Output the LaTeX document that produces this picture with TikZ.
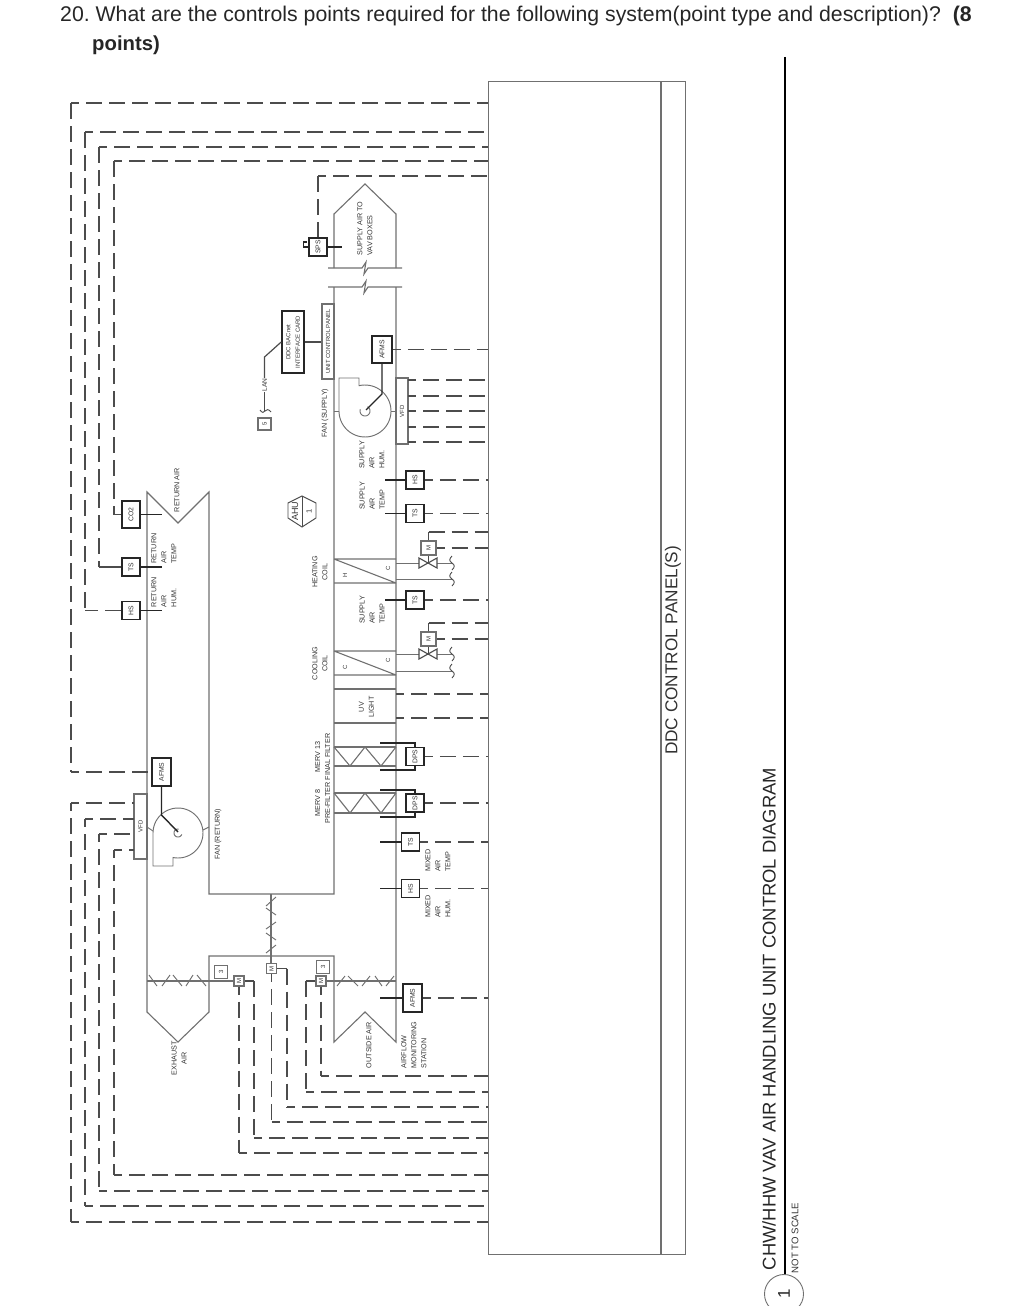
\documentclass[tikz,border=0pt]{standalone}
\usepackage{fontspec}
\setmainfont{Liberation Sans}
\definecolor{duct}{HTML}{707070}
\definecolor{sigc}{HTML}{4C4C4C}
\definecolor{txtc}{HTML}{333333}
\tikzset{
  duct/.style={draw=duct,line width=1.1pt},
  sig/.style={draw=sigc,line width=1.25pt,dash pattern=on 16pt off 7pt,dash phase=8pt},
  sigz/.style={sig,dash phase=0pt},
  wire/.style={draw=sigc,line width=1.2pt},
  stub/.style={draw=black!85,line width=1.4pt},
  thinl/.style={draw=duct,line width=0.95pt},
  inst/.style={draw=black!85,line width=1.6pt,fill=white,inner sep=0pt,font=\fontsize{6.8}{8}\selectfont,text=txtc},
  tag/.style={draw=duct,line width=1.1pt,fill=white,inner sep=0pt,font=\fontsize{6}{7}\selectfont,text=txtc},
  lbl/.style={rotate=90,inner sep=0pt,align=left,text=txtc,font=\fontsize{7.2}{10}\selectfont},
  lblc/.style={lbl,align=center},
  sym/.style={inner sep=0pt,rotate=90,font=\fontsize{6}{7}\selectfont,text=txtc},
}
\newcommand{\rt}[1]{\rotatebox{90}{#1}}
\begin{document}
\frenchspacing
\begin{tikzpicture}[x=1pt,y=-1pt]
\useasboundingbox (0,0) rectangle (1021,1306);
% header
\node[anchor=west,inner sep=0pt,font=\fontsize{21.27}{24}\selectfont,text=black!85] (q1) at (60,16.5) {20. What are the controls points required for the following system(point type and description)?\ \ \textbf{(8}};
\node[anchor=west,inner sep=0pt,font=\bfseries\fontsize{20.3}{24}\selectfont,text=black!85] (q2) at (92,45) {points)};
% panel
\node[draw=duct,line width=1.1pt,minimum width=197pt,minimum height=1173pt,inner sep=0pt,anchor=north west] (panel) at (488,81) {};
\draw[duct] (661,81) -- (661,1254);
\node[rotate=90,inner sep=0pt,font=\fontsize{17.2}{20}\selectfont,text=txtc] (ddcl) at (673,650.5) {DDC CONTROL PANEL(S)};
% title block
\draw[line width=1.6pt,black] (785,57) coordinate (tt) -- (785,1275) coordinate (tb);
\node[rotate=90,inner sep=0pt,font=\fontsize{18.4}{22}\selectfont,text=black!85] (title) at (769,1019) {CHW/HHW VAV AIR HANDLING UNIT CONTROL DIAGRAM};
\node[rotate=90,inner sep=0pt,font=\fontsize{9.6}{11}\selectfont,text=txtc] (nts) at (795,1238) {NOT TO SCALE};
\node[draw=duct,circle,line width=0.9pt,minimum size=39pt,inner sep=0pt,font=\fontsize{17}{20}\selectfont,text=black!85] (num) at (784,1294) {\rt{1}};

% ducts
\draw[duct] (334,268) -- (334,214) -- (365,184) -- (396,214) -- (396,268);
\draw[duct] (328,268) -- (362,268) -- (366,262) -- (364,274) -- (368,268) -- (402,268);
\draw[duct] (328,287) -- (362,287) -- (366,281) -- (364,293) -- (368,287) -- (402,287);
\draw[duct] (334,287) -- (334,894) -- (209,894) -- (209,492) -- (178,523) -- (147,492) -- (147,1012) -- (178,1042) -- (209,1012) -- (209,956) -- (334,956) -- (334,1042) -- (365,1012) -- (396,1042) -- (396,287);
% coils and sections
\draw[duct] (334,559) -- (396,559) (334,583) -- (396,583) (334,559) -- (396,583);
\draw[duct] (334,651) -- (396,651) (334,675) -- (396,675) (334,651) -- (396,675);
\draw[duct] (334,689) -- (396,689) (334,723) -- (396,723);
\draw[duct] (334,747) -- (396,747) (334,766) -- (396,766);
\draw[duct] (334,747) -- (350,766) -- (365,747) -- (381,766) -- (396,747);
\draw[duct] (334,793) -- (396,793) (334,813) -- (396,813);
\draw[duct] (334,793) -- (350,813) -- (365,793) -- (381,813) -- (396,793);
% dampers
\draw[duct] (147,981) -- (234,981);
\draw[thinl] (149,975) -- (157,986) (162,986) -- (170,975) (173,975) -- (182,986) (186,986) -- (193,975) (197,975) -- (206,986);
\draw[duct] (326,981) -- (396,981);
\draw[thinl] (337,986) -- (345,976) (348,976) -- (358,986) (362,986) -- (370,976) (375,976) -- (382,986) (386,986) -- (394,976);
\draw[duct] (271,894) -- (271,964);
\draw[thinl] (266,906) -- (276,897) (266,908) -- (276,915) (266,929) -- (276,922) (266,933) -- (276,940) (266,953) -- (276,945);
\node[tag,minimum size=10pt] (mdl) at (239,981) {\rt{M}};
\node[tag,minimum size=10pt] (mdc) at (271.5,968.5) {\rt{M}};
\node[tag,minimum size=10pt] (mdr) at (321,981) {\rt{M}};
\node[tag,minimum size=13pt] (t3l) at (221,972) {\rt{3}};
\node[tag,minimum size=13pt] (t3r) at (323,967) {\rt{3}};
% damper signals
\coordinate (cl1) at (239,1153); \coordinate (cl2) at (254,1138);
\coordinate (cc1) at (271.5,1122); \coordinate (cc2) at (287,1107);
\coordinate (cr1) at (306,1092); \coordinate (cr2) at (321,1076);
\draw[sig] (mdl.south) -- (cl1); \draw[sig] (cl1) -- (cl1 -| panel.west);
\draw[wire] (mdl.east) -- (cl2 |- mdl.east);
\draw[sigz] (cl2 |- mdl.east) -- (cl2); \draw[sig] (cl2) -- (cl2 -| panel.west);
\draw[sig] (mdc.south) -- (cc1); \draw[sig] (cc1) -- (cc1 -| panel.west);
\draw[wire] (mdc.east) -- (cc2 |- mdc.east);
\draw[sigz] (cc2 |- mdc.east) -- (cc2); \draw[sig] (cc2) -- (cc2 -| panel.west);
\draw[wire] (mdr.west) -- (cr1 |- mdr.west);
\draw[sigz] (cr1 |- mdr.west) -- (cr1); \draw[sig] (cr1) -- (cr1 -| panel.west);
\draw[sig] (mdr.south) -- (cr2); \draw[sig] (cr2) -- (cr2 -| panel.west);

% return fan
\draw[thinl] plot[domain=102:-180,samples=50,smooth] ({178+25*cos(\x)},{833+25*sin(\x)}) -- (153,866) -- (173,866) -- (173,857);
\draw[thinl] plot[domain=20:280,samples=25,smooth] ({178+4*cos(\x)},{833+4*sin(\x)});
\draw[thinl] (147,827) -- (153,831) (203,830) -- (209,827);
\node[draw=duct,line width=1.1pt,fill=white,minimum width=13pt,minimum height=65pt,inner sep=0pt,font=\fontsize{6}{7}\selectfont,text=txtc] (vfdr) at (140.5,826.5) {\rt{VFD}};
\node[inst,minimum width=19pt,minimum height=28pt] (afmsr) at (161.5,772) {\rt{AFMS}};
\coordinate (fr1) at (161.5,815); \coordinate (fr2) at (178,832);
\draw[stub] (afmsr.south) -- (fr1) -- (fr2);
\coordinate (ca) at (71,103); \coordinate (cb) at (85,132); \coordinate (cc) at (99,147); \coordinate (cd) at (114,161);
\draw[sig] (ca) -- (ca -| panel.west);
\draw[sigz] (ca) -- (ca |- afmsr.west);
\draw[sig] (ca |- afmsr.west) -- (afmsr.west);
\coordinate (v1) at (134,803); \coordinate (v2) at (134,819); \coordinate (v3) at (134,834); \coordinate (v4) at (134,850);
\coordinate (bd) at (71,1222); \coordinate (bc) at (85,1206); \coordinate (bb) at (99,1191); \coordinate (ba) at (114,1175);
\foreach \v/\b in {v1/bd,v2/bc,v3/bb,v4/ba}{
  \draw[sig] (\v -| \b) -- (\v);
  \draw[sig] (\v -| \b) -- (\b);
  \draw[sig] (\b) -- (\b -| panel.west);
}

% return instruments
\node[inst,minimum width=18pt,minimum height=27pt] (co2) at (131,514.5) {\rt{CO2}};
\node[inst,minimum size=18pt] (tsr) at (131,567) {\rt{TS}};
\node[inst,minimum size=18pt] (hsr) at (131,610.5) {\rt{HS}};
\foreach \n in {co2,tsr,hsr}{\draw[stub] (\n.east) -- ++(21,0);}
\draw[sig] (cd) -- (cd -| panel.west);
\draw[sigz] (cd) -- (cd |- co2.west);
\draw[wire] (cd |- co2.west) -- (co2.west);
\draw[sig] (cc) -- (cc -| panel.west);
\draw[sigz] (cc) -- (cc |- tsr.west);
\draw[wire] (cc |- tsr.west) -- (tsr.west);
\draw[sig] (cb) -- (cb -| panel.west);
\draw[sigz] (cb) -- (cb |- hsr.west);
\draw[sigz] (hsr.west) -- (cb |- hsr.west);

% SPS
\node[inst,minimum size=18pt] (sps) at (318,247) {\rt{SPS}};
\draw[stub] (sps.east) -- (342,247);
\draw[stub] (sps.west) -- (303.5,247) -- (303.5,242) -- (307,242);
\coordinate (ce) at (318,176);
\draw[sig] (ce) -- (ce -| panel.west);
\draw[sigz] (ce) -- (sps.north);

% supply fan
\draw[thinl] plot[domain=-103:180,samples=50,smooth] ({365+26*cos(\x)},{411+26*sin(\x)}) -- (339,378) -- (359,378) -- (359,386);
\draw[thinl] plot[domain=-60:200,samples=25,smooth] ({365+5*cos(\x)},{411+5*sin(\x)});
\draw[thinl] (334,411) -- (339,411) (391,411) -- (396,411);
\node[draw=duct,line width=1.1pt,fill=white,minimum width=12pt,minimum height=66pt,inner sep=0pt,font=\fontsize{6}{7}\selectfont,text=txtc] (vfds) at (402,411) {\rt{VFD}};
\node[inst,minimum width=20pt,minimum height=27pt] (afmss) at (382,349.5) {\rt{AFMS}};
\coordinate (fs1) at (382,394); \coordinate (fs2) at (366,410);
\draw[stub] (afmss.south) -- (fs1) -- (fs2);
\draw[sig] (afmss.east) -- (afmss.east -| panel.west);
\foreach \y/\k in {380/a,396/b,411/c,427/d,442/e}{
  \coordinate (vs\k) at (408,\y);
  \draw[sig] (vs\k) -- (vs\k -| panel.west);
}
% control panel
\node[draw=duct,line width=1.1pt,minimum width=12pt,minimum height=75pt,inner sep=0pt,font=\fontsize{5.9}{7}\selectfont,text=txtc] (ucp) at (328,341.5) {\rt{UNIT CONTROL PANEL}};
\node[draw=black!85,line width=1.6pt,minimum width=22pt,minimum height=62pt,inner sep=0pt,align=center,font=\fontsize{6}{9.5}\selectfont,text=txtc] (ddc) at (293,342) {\rotatebox{90}{\parbox{60pt}{\centering DDC BACnet\\INTERFACE CARD}}};
\draw[wire] (ddc.east) -- (ucp.west |- ddc.east);
\node[fill=white,rotate=90,inner sep=0.5pt,font=\fontsize{6.6}{7}\selectfont,text=txtc] (lan) at (264.5,385) {LAN};
\node[tag,minimum width=13pt,minimum height=12pt] (t5) at (264.5,424) {\rt{5}};
\coordinate (w1) at (264.5,411);
\draw[wire] (ddc.west) -- (264.5,357) -- (lan.east);
\draw[wire] (lan.west) -- (w1);
\draw[wire,line width=0.9pt] (260,410) .. controls (262,413) and (264,413) .. (265,411) .. controls (266,409) and (269,409) .. (271,412);

% AHU tag
\draw[thinl,draw=sigc] (302,496) coordinate (ah) -- (316,503) -- (316,518) -- (302,527) coordinate (ai) -- (288,518) -- (288,503) -- cycle;
\draw[thinl,draw=sigc] (ah) -- (ai);
\node[rotate=90,inner sep=0pt,font=\fontsize{9}{10}\selectfont,text=txtc] (ahu) at (295,511) {AHU};
\node[rotate=90,inner sep=0pt,font=\fontsize{7.5}{9}\selectfont,text=txtc] (ahu1) at (309,511) {1};

% supply side instruments
\node[inst,minimum size=18pt] (hss) at (415,480) {\rt{HS}};
\node[inst,minimum size=18pt] (tss) at (415,513.5) {\rt{TS}};
\node[inst,minimum size=18pt] (tsm) at (415,600) {\rt{TS}};
\foreach \n in {hss,tss,tsm}{
  \draw[stub] (\n.west) -- ++(-20,0);
  \draw[sig] (\n.east) -- (\n.east -| panel.west);
}
% valves
\foreach \n/\yb/\yv/\yp/\ym in {h/532/563/579/548,c/623/654/671/639}{
  \draw[thinl] (396,\yv) -- (452,\yv) (396,\yp) -- (452,\yp);
  \draw[draw=sigc,line width=1.1pt,fill=white] (419,\yv-5) -- (437,\yv+5) -- (437,\yv-5) -- (419,\yv+5) -- cycle;
  \draw[draw=sigc,line width=0.9pt] (452,\yv-7) .. controls (449,\yv-4) and (449,\yv-2) .. (452,\yv) .. controls (455,\yv+2) and (455,\yv+4) .. (452,\yv+7);
  \draw[draw=sigc,line width=0.9pt] (452,\yp-7) .. controls (449,\yp-4) and (449,\yp-2) .. (452,\yp) .. controls (455,\yp+2) and (455,\yp+4) .. (452,\yp+7);
  \draw[wire] (428.5,\yv) -- (428.5,\ym);
  \node[tag,minimum width=15pt,minimum height=14pt] (mv\n) at (428.5,\ym) {\rt{M}};
  \coordinate (tb\n) at (428.5,\yb);
  \draw[wire] (mv\n.north) -- (tb\n);
  \draw[sigz] (tb\n) -- (tb\n -| panel.west);
  \draw[sig] (mv\n.east) -- (mv\n.east -| panel.west);
}
% UV dashed
\foreach \y/\k in {694/a,718/b}{
  \coordinate (uv\k) at (396,\y);
  \draw[sig] (uv\k) -- (uv\k -| panel.west);
}
% DPS
\foreach \n/\yy/\yt/\yb in {a/756.5/743/770,b/803/790/817}{
  \node[inst,minimum size=18pt] (dps\n) at (415,\yy) {\rt{DPS}};
  \draw[stub] (dps\n.north) -- (415,\yt) -- (380,\yt);
  \draw[stub] (dps\n.south) -- (415,\yb) -- (380,\yb);
  \draw[sig] (dps\n.east) -- (dps\n.east -| panel.west);
}
% mixed air
\node[inst,minimum size=18pt] (tsx) at (410.5,842) {\rt{TS}};
\node[inst,minimum size=18pt] (hsx) at (410.5,888.5) {\rt{HS}};
\node[inst,minimum width=19pt,minimum height=28pt] (afmso) at (412.5,998) {\rt{AFMS}};
\foreach \n in {tsx,hsx,afmso}{
  \draw[stub] (\n.west) -- (380,0 |- \n.west);
  \draw[sig] (\n.east) -- (\n.east -| panel.west);
}
% labels
\node[lbl] (l1) at (365,228.5) {SUPPLY AIR TO\\VAV BOXES};
\node[lblc] (l2) at (325,413) {FAN (SUPPLY)};
\node[lbl] (l3) at (372,455) {SUPPLY\\AIR\\HUM.};
\node[lbl] (l4) at (372,496) {SUPPLY\\AIR\\TEMP};
\node[lbl] (l5) at (372,610) {SUPPLY\\AIR\\TEMP};
\node[lblc] (l6) at (320,572) {HEATING\\COIL};
\node[lblc] (l7) at (320,663.5) {COOLING\\COIL};
\node[lblc] (l8) at (366.5,707) {UV\\LIGHT};
\node[lblc] (l9) at (322.5,757) {MERV 13\\FINAL FILTER};
\node[lblc] (l10) at (322.5,803) {MERV 8\\PRE-FILTER};
\node[lblc] (l11) at (218,834) {FAN (RETURN)};
\node[lbl] (l12) at (438,860.5) {MIXED\\AIR\\TEMP};
\node[lbl] (l13) at (438,906.5) {MIXED\\AIR\\HUM.};
\node[lblc] (l14) at (179,1058) {EXHAUST\\AIR};
\node[lblc] (l15) at (369,1045) {OUTSIDE AIR};
\node[lbl] (l16) at (414,1045) {AIRFLOW\\MONITORING\\STATION};
\node[lblc] (l17) at (177,490) {RETURN AIR};
\node[lbl] (l18) at (164,548.5) {RETURN\\AIR\\TEMP};
\node[lbl] (l19) at (164,592) {RETURN\\AIR\\HUM.};
\node[sym] (hH) at (345,575) {H};
\node[sym] (hC) at (388,568) {C};
\node[sym] (cC1) at (345,667) {C};
\node[sym] (cC2) at (388,660) {C};
\end{tikzpicture}
\end{document}
